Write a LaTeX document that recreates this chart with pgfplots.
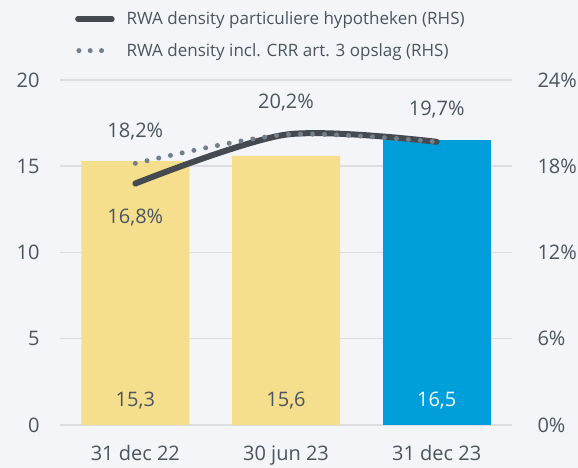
\documentclass[border=0pt]{standalone}
\usepackage{pgfplots}
\pgfplotsset{compat=1.18}
\usepackage{fontspec}
\setmainfont{Open Sans}
\definecolor{bg}{HTML}{F3F5F8}
\definecolor{ylw}{HTML}{F5DE8C}
\definecolor{blu}{HTML}{009EDB}
\definecolor{gridc}{HTML}{DCDDE0}
\definecolor{txt}{HTML}{4A5560}
\definecolor{solidc}{HTML}{454A50}
\definecolor{dotc}{HTML}{72808C}

\tikzset{lbl/.style={font=\fontsize{20bp}{24bp}\selectfont, anchor=center}}
\pgfplotsset{
  base/.style={
    at={(60bp,43bp)}, anchor=south west,
    scale only axis, width=452bp, height=345bp,
    xmin=-0.5, xmax=2.5,
    axis line style={draw=none},
    major tick length=0pt,
    clip=false,
    tick label style={font=\fontsize{20bp}{24bp}\selectfont, text=txt},
    /pgf/number format/assume math mode=true,
    /pgf/number format/use comma,
    /pgf/number format/fixed,
    /pgf/number format/fixed zerofill,
    /pgf/number format/precision=1,
  },
  solidleg/.style={legend image code/.code={%
    \draw[##1, line width=5.5bp] (0bp,0bp) -- (34bp,0bp);}},
  dotleg/.style={legend image code/.code={%
    \draw[##1, dash pattern=on 0bp off 11.3bp] (1bp,0bp) -- (24bp,0bp);}},
}

\begin{document}
\begin{tikzpicture}
\fill[bg, use as bounding box] (0,0) rectangle (578bp,468bp);

% left axis: bars
\begin{axis}[base,
  ymin=0, ymax=20, ytick={0,5,...,20},
  xtick={0,1,2}, xticklabels={31 dec 22,30 jun 23,31 dec 23},
  ymajorgrids, grid style={gridc, line width=1.5bp},
  yticklabel style={xshift=-17bp, /pgf/number format/precision=0},
  xticklabel style={yshift=-17bp},
]
\addplot[ybar, bar width=108bp, bar shift=0pt, fill=ylw, draw=none]
  coordinates {(0,15.3) (1,15.6)};
\addplot[ybar, bar width=108bp, bar shift=0pt, fill=blu, draw=none]
  coordinates {(2,16.5)};
\addplot[draw=none, point meta=explicit, nodes near coords,
  nodes near coords style={lbl, yshift=24bp, text=txt}]
  coordinates {(0,0) [15.3] (1,0) [15.6]};
\addplot[draw=none, point meta=explicit, nodes near coords,
  nodes near coords style={lbl, yshift=24bp, text=white}]
  coordinates {(2,0) [16.5]};
\end{axis}

% right axis: densities
\begin{axis}[base,
  ymin=0, ymax=24, ytick={0,6,...,24},
  axis y line*=right, axis x line=none,
  yticklabel={\pgfmathprintnumber[fixed,precision=0]{\tick}\%},
  yticklabel style={xshift=22bp},
  legend style={draw=none, fill=none, at={(0,1)}, anchor=south west,
    xshift=12bp, yshift=18bp, font=\fontsize{17bp}{20bp}\selectfont,
    text=txt, row sep=13bp, cells={anchor=west},
    /tikz/every odd column/.append style={column sep=10bp}},
  legend cell align=left,
]
\addplot[solidc, line width=6bp, line cap=round, smooth, solidleg]
  coordinates {(0,16.8) (1,20.2) (2,19.7)};
\addlegendentry{RWA density particuliere hypotheken (RHS)}
\addplot[dotc, line width=5bp, line cap=round, smooth,
  dash pattern=on 0bp off 12bp, dotleg]
  coordinates {(0,18.2) (1,20.2) (2,19.7)};
\addlegendentry{RWA density incl. CRR art. 3 opslag (RHS)}
\addplot[draw=none, point meta=explicit, forget plot,
  nodes near coords={\pgfmathprintnumber{\pgfplotspointmeta}\%},
  nodes near coords style={lbl, yshift=32bp, text=txt}]
  coordinates {(0,18.2) [18.2] (1,20.2) [20.2] (2,19.7) [19.7]};
\addplot[draw=none, point meta=explicit, forget plot,
  nodes near coords={\pgfmathprintnumber{\pgfplotspointmeta}\%},
  nodes near coords style={lbl, yshift=-34bp, text=txt}]
  coordinates {(0,16.8) [16.8]};
\end{axis}
\end{tikzpicture}
\end{document}
